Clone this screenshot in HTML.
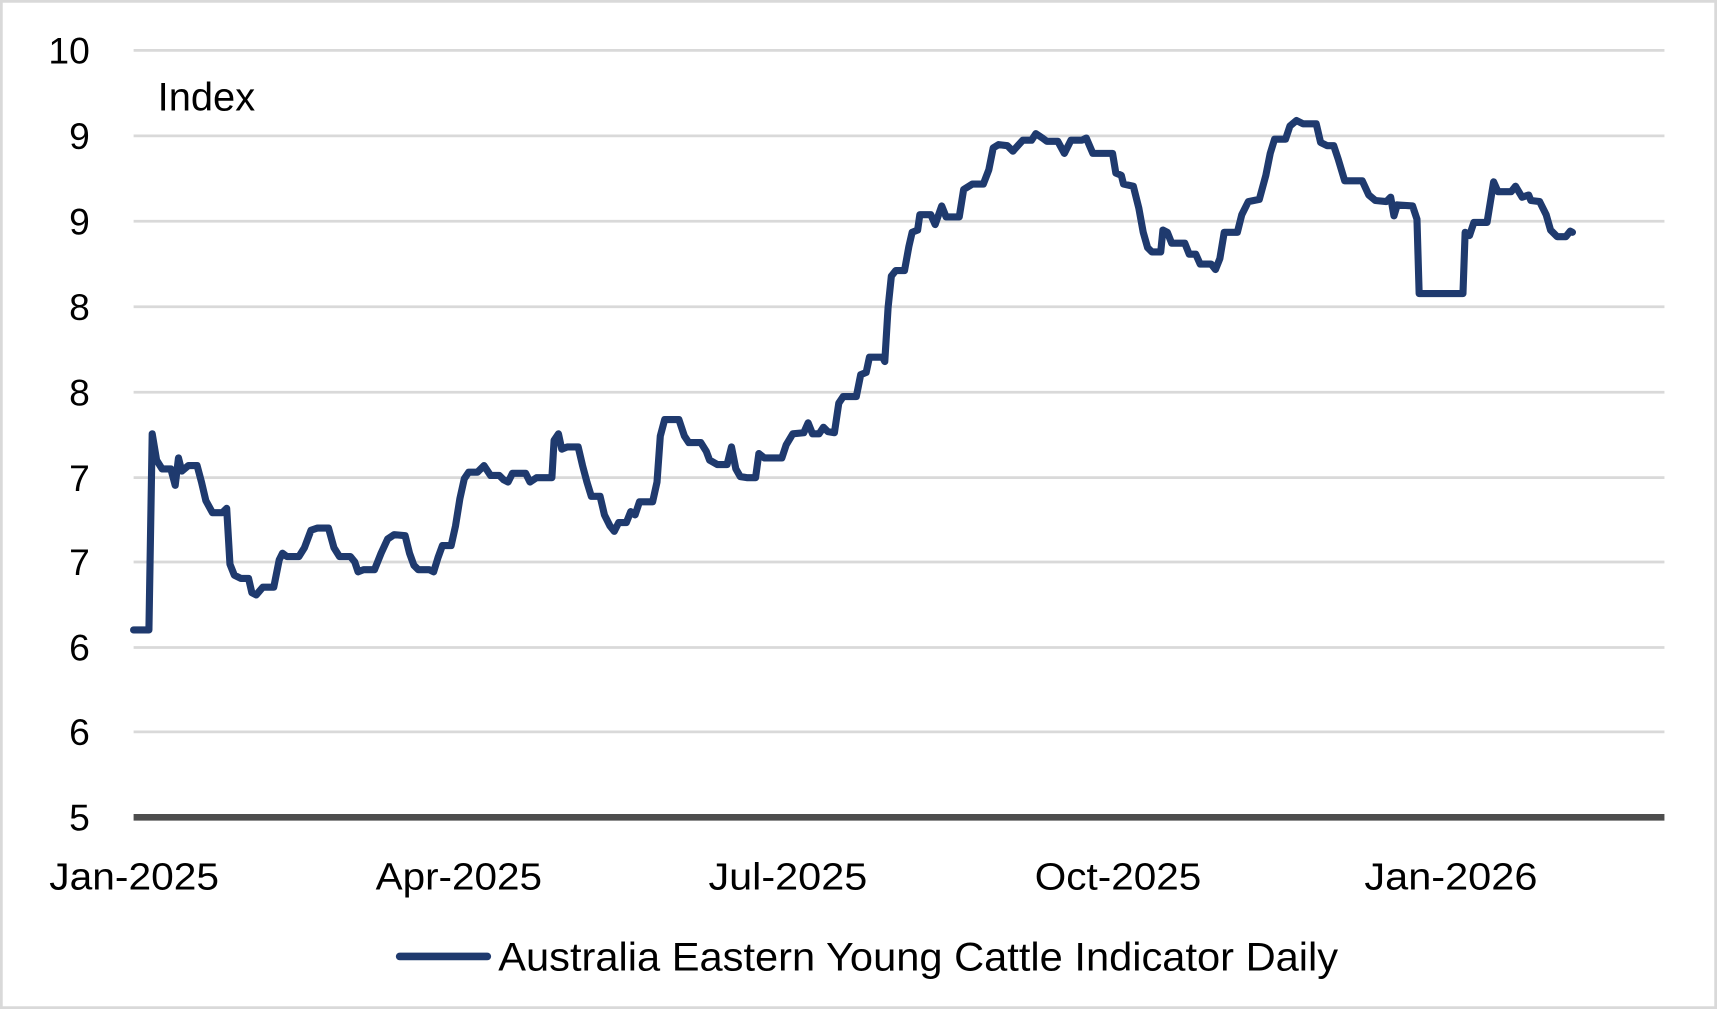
<!DOCTYPE html>
<html><head><meta charset="utf-8"><style>
html,body{margin:0;padding:0;background:#fff;}
svg{display:block;}
text{font-family:"Liberation Sans",sans-serif;fill:#000;}
</style></head><body>
<svg width="1717" height="1009" viewBox="0 0 1568 921" preserveAspectRatio="none" xmlns="http://www.w3.org/2000/svg">
<rect x="1" y="1" width="1566" height="919" fill="#fff" stroke="#d9d9d9" stroke-width="3"/>
<g stroke="#d9d9d9" stroke-width="2.5">
<line x1="122" x2="1520" y1="46" y2="46"/>
<line x1="122" x2="1520" y1="124" y2="124"/>
<line x1="122" x2="1520" y1="202" y2="202"/>
<line x1="122" x2="1520" y1="280" y2="280"/>
<line x1="122" x2="1520" y1="358" y2="358"/>
<line x1="122" x2="1520" y1="436" y2="436"/>
<line x1="122" x2="1520" y1="513" y2="513"/>
<line x1="122" x2="1520" y1="591" y2="591"/>
<line x1="122" x2="1520" y1="668" y2="668"/>
</g>
<line x1="122" x2="1520" y1="746" y2="746" stroke="#4d4d4d" stroke-width="6"/>
<g font-size="34" text-anchor="end">
<text x="82" y="58">10</text><text x="82" y="136">9</text><text x="82" y="214">9</text>
<text x="82" y="292">8</text><text x="82" y="370">8</text><text x="82" y="448">7</text>
<text x="82" y="525">7</text><text x="82" y="603">6</text><text x="82" y="680">6</text>
<text x="82" y="758">5</text>
</g>
<text x="144" y="101" font-size="36" textLength="89" lengthAdjust="spacingAndGlyphs">Index</text>
<g font-size="35">
<text x="45" y="812" textLength="155" lengthAdjust="spacingAndGlyphs">Jan-2025</text>
<text x="343" y="812" textLength="152" lengthAdjust="spacingAndGlyphs">Apr-2025</text>
<text x="647" y="812" textLength="145" lengthAdjust="spacingAndGlyphs">Jul-2025</text>
<text x="945" y="812" textLength="152" lengthAdjust="spacingAndGlyphs">Oct-2025</text>
<text x="1246" y="812" textLength="158" lengthAdjust="spacingAndGlyphs">Jan-2026</text>
</g>
<polyline fill="none" stroke="#1f3a6e" stroke-width="6.5" stroke-linejoin="round" stroke-linecap="round" points="122,575 136,575 139,396 143,420 148,428 156,428 160,443 163,418 166,430 172,425 180,425 184,440 188,457 194,468 203,468 207,464 210,515 214,525 220,528 227,528 230,541 234,543 240,536 250,536 255,511 258,505 262,508 273,508 278,500 284,484 290,482 300,482 305,500 310,508 320,508 324,513 327,522 332,520 342,520 348,505 354,492 360,488 370,489 374,505 378,516 382,520 392,520 396,522 400,509 404,498 412,498 416,480 420,455 424,437 428,431 436,431 442,425 448,434 456,434 460,438 464,440 468,432 480,432 484,440 490,436 504,436 506,402 510,396 513,410 518,408 528,408 532,425 536,440 540,453 548,453 552,470 557,480 561,485 565,477 572,477 576,467 580,470 584,458 596,458 600,440 603,398 607,383 620,383 625,398 629,404 640,404 645,412 648,420 655,424 664,424 668,408 672,428 676,435 682,436 690,436 693,414 698,418 714,418 718,406 724,396 734,395 738,386 742,396 748,396 752,390 756,394 762,395 766,368 770,362 782,362 786,342 791,340 794,326 806,326 808,330 811,281 814,252 818,247 826,247 830,225 833,212 838,210 840,196 850,196 854,205 860,188 864,198 876,198 880,173 888,168 898,168 903,155 907,135 912,132 920,133 925,138 934,128 942,128 946,122 952,126 956,129 966,129 972,140 978,128 988,128 992,126 998,140 1016,140 1019,158 1024,160 1026,168 1035,170 1040,190 1044,212 1048,226 1052,230 1060,230 1062,210 1066,212 1070,222 1082,222 1086,232 1092,232 1096,241 1106,241 1110,246 1114,236 1118,212 1130,212 1134,196 1140,184 1150,182 1156,160 1160,140 1164,127 1174,127 1178,115 1184,110 1190,113 1202,113 1206,130 1212,133 1218,133 1222,145 1228,165 1244,165 1250,178 1256,183 1266,184 1270,180 1273,197 1276,187 1290,188 1294,200 1296,268 1336,268 1338,212 1342,215 1346,203 1358,203 1364,166 1368,175 1380,175 1384,170 1390,180 1396,178 1398,183 1406,184 1412,196 1416,210 1422,216 1430,216 1434,211 1436,212"/>
<line x1="365" x2="445" y1="873" y2="873" stroke="#1f3a6e" stroke-width="7" stroke-linecap="round"/>
<text x="455" y="886" font-size="36" textLength="767" lengthAdjust="spacingAndGlyphs">Australia Eastern Young Cattle Indicator Daily</text>
</svg>
</body></html>
